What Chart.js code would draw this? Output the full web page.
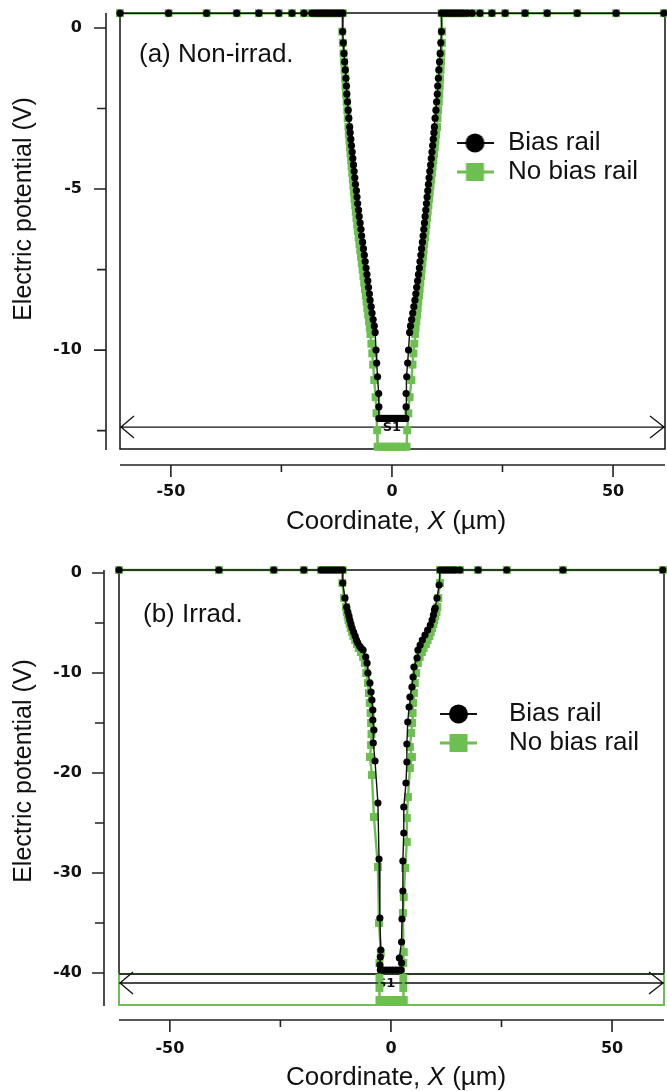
<!DOCTYPE html>
<html><head><meta charset="utf-8">
<script src="https://cdn.jsdelivr.net/npm/chart.js@4.4.0/dist/chart.umd.min.js"></script>
<style>
html,body{margin:0;padding:0;background:#fff;width:667px;}
canvas{display:block;}
</style></head>
<body>
<canvas id="ca" width="667" height="540"></canvas>
<canvas id="cb" width="667" height="551"></canvas>
<script>
// ---------- data ----------
const seriesNames = ['Bias rail', 'No bias rail'];
const xTickLabels = [-50, 0, 50];
const yTickLabelsA = [0, -5, -10];
const yTickLabelsB = [0, -10, -20, -30, -40];
const panelLabels = ['(a) Non-irrad.', '(b) Irrad.'];
const xTitleParts = [['Coordinate, ', false], ['X', true], [' (\u00b5m)', false]];
const yTitle = 'Electric potential (V)';
const markText = 'S1';

// (a) Non-irradiated, Bias rail
const biasA = [
 [-61.5,0.46],[-50.5,0.46],[-41.9,0.46],[-35.1,0.46],[-30.1,0.46],[-25.6,0.46],[-22.6,0.46],[-19.9,0.46],[-18.1,0.46],[-17.3,0.46],[-16.6,0.46],[-15.9,0.46],[-15.2,0.46],[-14.5,0.46],[-13.8,0.46],[-13.1,0.46],[-12.4,0.46],[-11.7,0.46],[-11.1,0.46],
 [-11.15,-0.11],[-11.0,-0.46],[-10.85,-0.79],[-10.7,-1.05],[-10.55,-1.3],[-10.4,-1.56],[-10.3,-1.8],[-10.2,-2.05],[-10.05,-2.29],[-9.9,-2.55],[-9.75,-2.8],[-9.55,-3.07],
 [-9.45,-3.25],[-9.3,-3.45],[-9.15,-3.65],[-9.0,-3.85],[-8.85,-4.05],[-8.7,-4.25],[-8.55,-4.45],[-8.4,-4.65],[-8.25,-4.85],[-8.05,-5.05],[-7.9,-5.25],[-7.75,-5.45],[-7.55,-5.65],[-7.4,-5.85],[-7.2,-6.05],[-7.0,-6.25],[-6.85,-6.45],[-6.65,-6.65],[-6.45,-6.85],[-6.25,-7.05],[-6.05,-7.25],[-5.85,-7.45],[-5.65,-7.65],[-5.45,-7.85],[-5.3,-8.05],[-5.1,-8.25],[-4.95,-8.45],[-4.7,-8.65],[-4.5,-8.85],[-4.25,-9.05],[-4.0,-9.25],[-3.8,-9.45],
 [-3.6,-10.0],[-3.45,-10.4],[-3.25,-10.83],[-3.0,-11.35],[-2.95,-11.76],[-2.95,-12.12],
 [-2.35,-12.12],[-1.75,-12.12],[-1.15,-12.12],[-0.55,-12.12],[0.05,-12.12],[0.65,-12.12],[1.25,-12.12],[1.85,-12.12],[2.5,-12.12],[3.15,-12.12],
 [3.2,-11.76],[3.2,-11.35],[3.35,-10.83],[3.55,-10.4],[3.75,-10.0],
 [4.0,-9.45],[4.2,-9.25],[4.45,-9.05],[4.7,-8.85],[4.95,-8.65],[5.2,-8.45],[5.4,-8.25],[5.6,-8.05],[5.8,-7.85],[6.0,-7.65],[6.2,-7.45],[6.35,-7.25],[6.55,-7.05],[6.7,-6.85],[6.9,-6.65],[7.05,-6.45],[7.2,-6.25],[7.35,-6.05],[7.5,-5.85],[7.65,-5.65],[7.8,-5.45],[7.95,-5.25],[8.1,-5.05],[8.25,-4.85],[8.4,-4.65],[8.55,-4.45],[8.75,-4.25],[8.9,-4.05],[9.05,-3.85],[9.2,-3.65],[9.35,-3.45],[9.5,-3.25],
 [9.6,-3.07],[9.75,-2.8],[9.95,-2.55],[10.1,-2.29],[10.25,-2.05],[10.35,-1.8],[10.5,-1.56],[10.6,-1.3],[10.75,-1.05],[10.9,-0.79],[11.05,-0.46],[11.2,-0.11],
 [11.2,0.46],[11.9,0.46],[12.6,0.46],[13.3,0.46],[14.0,0.46],[14.7,0.46],[15.4,0.46],[16.1,0.46],[17.0,0.46],[18.1,0.46],[19.9,0.46],[22.6,0.46],[25.6,0.46],[30.1,0.46],[35.1,0.46],[41.9,0.46],[50.7,0.46],[61.5,0.46]
];

// (a) Non-irradiated, No bias rail
const noBiasA = [
 [-61.5,0.46],[-50.5,0.46],[-41.9,0.46],[-35.1,0.46],[-30.1,0.46],[-25.6,0.46],[-22.6,0.46],[-19.9,0.46],[-18.1,0.46],[-17.3,0.46],[-16.6,0.46],[-15.9,0.46],[-15.2,0.46],[-14.5,0.46],[-13.8,0.46],[-13.1,0.46],[-12.4,0.46],[-11.7,0.46],[-11.1,0.46],
 [-11.25,-0.11],[-11.1,-0.46],[-10.95,-0.79],[-10.85,-1.05],[-10.7,-1.3],[-10.6,-1.56],[-10.5,-1.8],[-10.4,-2.05],[-10.25,-2.29],[-10.1,-2.55],[-10.0,-2.8],[-9.85,-3.07],
 [-9.75,-3.3],[-9.62,-3.5],[-9.5,-3.7],[-9.37,-3.9],[-9.24,-4.1],[-9.12,-4.3],[-8.98,-4.5],[-8.85,-4.7],[-8.72,-4.9],[-8.6,-5.1],[-8.47,-5.3],[-8.33,-5.5],[-8.18,-5.7],[-8.03,-5.9],[-7.87,-6.1],[-7.7,-6.3],[-7.53,-6.5],[-7.36,-6.7],[-7.18,-6.9],[-7.0,-7.1],[-6.82,-7.3],[-6.64,-7.5],[-6.46,-7.7],[-6.28,-7.9],[-6.1,-8.1],[-5.92,-8.3],[-5.74,-8.5],[-5.56,-8.7],[-5.38,-8.9],[-5.2,-9.1],[-5.02,-9.3],[-4.86,-9.5],
 [-4.65,-9.8],[-4.45,-10.1],[-4.25,-10.45],[-4.0,-10.93],[-3.7,-11.46],[-3.5,-11.96],[-3.35,-12.49],[-3.25,-13.0],
 [-2.55,-13.0],[-1.85,-13.0],[-1.15,-13.0],[-0.45,-13.0],[0.25,-13.0],[0.95,-13.0],[1.65,-13.0],[2.35,-13.0],[3.3,-13.0],
 [3.45,-12.49],[3.7,-11.96],[4.0,-11.46],[4.4,-10.93],[4.65,-10.45],[4.85,-10.1],[5.05,-9.8],
 [5.2,-9.5],[5.36,-9.3],[5.52,-9.1],[5.67,-8.9],[5.82,-8.7],[5.97,-8.5],[6.12,-8.3],[6.27,-8.1],[6.42,-7.9],[6.57,-7.7],[6.72,-7.5],[6.87,-7.3],[7.02,-7.1],[7.17,-6.9],[7.32,-6.7],[7.47,-6.5],[7.62,-6.3],[7.77,-6.1],[7.93,-5.9],[8.09,-5.7],[8.25,-5.5],[8.4,-5.3],[8.56,-5.1],[8.72,-4.9],[8.88,-4.7],[9.04,-4.5],[9.2,-4.3],[9.36,-4.1],[9.52,-3.9],[9.68,-3.7],[9.84,-3.5],[10.0,-3.3],
 [10.2,-3.07],[10.3,-2.8],[10.45,-2.55],[10.6,-2.29],[10.7,-2.05],[10.8,-1.8],[10.9,-1.56],[11.0,-1.3],[11.1,-1.05],[11.2,-0.79],[11.3,-0.46],[11.35,-0.11],
 [11.2,0.46],[11.9,0.46],[12.6,0.46],[13.3,0.46],[14.0,0.46],[14.7,0.46],[15.4,0.46],[16.1,0.46],[17.0,0.46],[18.1,0.46],[19.9,0.46],[22.6,0.46],[25.6,0.46],[30.1,0.46],[35.1,0.46],[41.9,0.46],[50.7,0.46],[61.5,0.46]
];

// (b) Irradiated, Bias rail
const biasB = [
 [-61.5,0.3],[-38.9,0.3],[-26.5,0.3],[-19.7,0.3],[-15.8,0.3],[-15.1,0.3],[-14.4,0.3],[-13.7,0.3],[-13.0,0.3],[-12.3,0.3],[-11.6,0.3],[-10.9,0.3],
 [-10.9,-1.0],[-10.4,-2.5],[-10.0,-3.4],[-9.75,-3.9],[-9.5,-4.3],[-9.3,-4.7],[-9.05,-5.1],[-8.8,-5.5],[-8.45,-5.9],[-8.1,-6.3],[-7.8,-6.7],[-7.5,-7.0],[-7.1,-7.3],[-6.75,-7.5],[-6.3,-7.7],
 [-5.7,-8.4],[-5.4,-9.0],[-5.2,-10.0],[-4.75,-11.0],[-4.5,-11.9],[-4.3,-12.7],[-4.1,-13.7],[-4.1,-14.7],[-3.85,-15.7],[-4.0,-17.0],[-3.6,-18.8],[-2.95,-23.0],[-2.7,-28.6],[-2.5,-34.5],[-2.3,-37.7],[-2.4,-38.4],[-2.5,-39.2],
 [-2.4,-39.7],[-1.7,-39.7],[-1.0,-39.7],[-0.3,-39.7],[0.4,-39.7],[1.1,-39.7],[1.8,-39.7],[2.3,-39.7],
 [2.4,-39.0],[1.9,-38.5],[2.4,-36.9],[2.5,-34.6],[2.7,-31.8],[2.7,-28.8],[2.9,-26.0],[2.9,-23.4],[3.4,-21.0],[3.6,-18.9],[3.6,-17.1],[3.8,-14.9],[4.1,-13.4],[4.3,-12.4],[4.75,-11.4],[5.0,-10.4],[5.2,-9.4],
 [5.9,-8.5],[6.1,-7.7],[6.6,-7.2],[7.1,-6.7],[7.7,-6.2],[8.3,-5.7],[8.9,-5.2],[9.3,-4.7],[9.6,-4.2],[9.85,-3.7],[10.0,-3.5],[10.4,-2.5],[10.9,-1.2],
 [11.1,0.3],[11.8,0.3],[12.5,0.3],[13.2,0.3],[13.9,0.3],[14.5,0.3],[15.6,0.3],[19.7,0.3],[26.2,0.3],[38.9,0.3],[61.5,0.3]
];

// (b) Irradiated, No bias rail
const noBiasB = [
 [-61.5,0.3],[-38.9,0.3],[-26.5,0.3],[-19.7,0.3],[-15.8,0.3],[-15.1,0.3],[-14.4,0.3],[-13.7,0.3],[-13.0,0.3],[-12.3,0.3],[-11.6,0.3],[-10.9,0.3],
 [-11.0,-1.0],[-10.6,-2.5],[-10.2,-3.4],[-10.0,-3.9],[-9.8,-4.3],[-9.6,-4.7],[-9.35,-5.1],[-9.1,-5.5],[-8.8,-5.9],[-8.5,-6.3],[-8.1,-6.7],[-7.7,-7.1],[-7.3,-7.5],[-6.8,-7.9],[-6.3,-8.4],[-5.9,-9.0],[-5.6,-10.0],[-5.2,-11.0],[-5.0,-12.0],[-4.8,-13.0],[-4.6,-14.0],[-4.5,-15.0],[-4.4,-16.1],[-4.5,-17.2],[-4.75,-18.4],[-4.3,-20.2],[-3.85,-24.4],[-2.95,-29.4],[-2.7,-35.0],[-2.3,-38.0],
 [-2.6,-39.0],[-2.6,-40.5],[-2.6,-41.5],[-2.6,-42.7],
 [-1.8,-42.7],[-1.0,-42.7],[-0.2,-42.7],[0.6,-42.7],[1.4,-42.7],[2.2,-42.7],[2.9,-42.7],
 [2.8,-41.5],[2.8,-40.5],[2.8,-39.0],[2.9,-37.9],[2.7,-34.0],[2.9,-32.4],[3.2,-29.5],[3.6,-26.9],[3.6,-24.5],[3.85,-22.4],[4.3,-19.5],[4.75,-18.4],[4.3,-17.4],[4.6,-16.0],[4.8,-15.0],[4.9,-14.0],[5.0,-13.0],[5.2,-12.0],[5.4,-11.0],[5.7,-10.0],[6.1,-9.0],[6.5,-8.4],[7.0,-7.9],[7.4,-7.5],[7.9,-7.1],[8.3,-6.7],[8.7,-6.3],[9.0,-5.9],[9.3,-5.5],[9.6,-5.1],[9.8,-4.7],[10.05,-4.3],[10.3,-3.9],[10.5,-3.4],[10.7,-2.5],[11.1,-1.0],
 [11.1,0.3],[11.8,0.3],[12.5,0.3],[13.2,0.3],[13.9,0.3],[14.5,0.3],[15.6,0.3],[19.7,0.3],[26.2,0.3],[38.9,0.3],[61.5,0.3]
];

// ---------- styles ----------
const GREEN = '#6cbf50';
const INK = '#111111';
const FONT = '"Liberation Sans", Arial, sans-serif';
const TICK_FONT = {family: '"DejaVu Sans", sans-serif', size: 16, weight: 'bold'};
Chart.defaults.font.family = FONT;

function pts(arr) { return arr.map(p => ({x: p[0], y: p[1]})); }

function makeIcon(kind) {
  const c = document.createElement('canvas');
  c.width = 37; c.height = 22;
  const g = c.getContext('2d');
  if (kind === 0) {
    g.strokeStyle = INK; g.lineWidth = 2.2;
    g.beginPath(); g.moveTo(0, 11); g.lineTo(37, 11); g.stroke();
    g.fillStyle = '#000'; g.beginPath(); g.arc(18.5, 11, 9.5, 0, Math.PI * 2); g.fill();
  } else {
    g.strokeStyle = GREEN; g.lineWidth = 3;
    g.beginPath(); g.moveTo(0, 11); g.lineTo(37, 11); g.stroke();
    g.fillStyle = GREEN; g.fillRect(9.5, 2, 18, 18);
  }
  return c;
}
const icons = [makeIcon(0), makeIcon(1)];

const panelPlugin = {
  id: 'panel',
  beforeDraw(chart, args, o) {
    const lg = chart.legend;
    if (lg) {
      lg.left = o.legendLeft; lg.top = o.legendTop;
      lg.right = o.legendLeft + 260; lg.bottom = o.legendTop + 120;
      lg.width = 260; lg.height = 120;
    }
  },
  beforeDatasetsDraw(chart, args, o) {
    const {ctx, chartArea: a, scales: {x, y}} = chart;
    ctx.save();
    ctx.lineWidth = 1.5; ctx.strokeStyle = INK;
    ctx.strokeRect(a.left, a.top, a.width, a.height);
    if (o.greenTop !== null) {
      const gy = y.getPixelForValue(o.greenTop);
      ctx.strokeStyle = GREEN; ctx.lineWidth = 2;
      ctx.strokeRect(a.left, gy, a.width, a.bottom - gy);
      ctx.strokeStyle = INK; ctx.lineWidth = 1.3;
      ctx.beginPath(); ctx.moveTo(a.left, gy); ctx.lineTo(a.right, gy); ctx.stroke();
    }
    const ay = y.getPixelForValue(o.arrowY);
    ctx.strokeStyle = INK; ctx.lineWidth = 1.3;
    ctx.beginPath();
    ctx.moveTo(a.left, ay); ctx.lineTo(a.right, ay);
    ctx.moveTo(a.left + 14, ay - 11); ctx.lineTo(a.left + 1, ay); ctx.lineTo(a.left + 14, ay + 11);
    ctx.moveTo(a.right - 15, ay - 11); ctx.lineTo(a.right - 1, ay); ctx.lineTo(a.right - 15, ay + 11);
    ctx.stroke();
    ctx.fillStyle = INK; ctx.font = 'bold 13px "DejaVu Sans", sans-serif';
    ctx.textAlign = 'center'; ctx.textBaseline = 'middle';
    ctx.fillText(markText, x.getPixelForValue(o.markX), ay + 1);
    ctx.restore();
  },
  afterDraw(chart, args, o) {
    const {ctx, chartArea: a, scales: {x, y}} = chart;
    ctx.save();
    ctx.strokeStyle = '#222'; ctx.lineWidth = 1.6;
    ctx.beginPath();
    const yAx = a.left - o.yGap;
    ctx.moveTo(yAx, a.top); ctx.lineTo(yAx, a.bottom + 1);
    y.ticks.forEach(t => {
      const py = y.getPixelForValue(t.value);
      ctx.moveTo(yAx, py); ctx.lineTo(yAx - (t.label ? 12 : 9), py);
    });
    const xAx = a.bottom + o.xGap;
    ctx.moveTo(a.left, xAx); ctx.lineTo(a.right, xAx);
    x.ticks.forEach(t => {
      const px = x.getPixelForValue(t.value);
      ctx.moveTo(px, xAx); ctx.lineTo(px, xAx + (t.label ? 12 : 7));
    });
    ctx.stroke();

    ctx.fillStyle = INK; ctx.textBaseline = 'middle';
    // y title
    ctx.save();
    ctx.translate(o.yTitleX, o.yTitleY); ctx.rotate(-Math.PI / 2);
    ctx.font = '25px ' + FONT; ctx.textAlign = 'center';
    ctx.fillText(yTitle, 0, 0);
    ctx.restore();
    // x title (mixed italic)
    ctx.textAlign = 'left';
    const fonts = xTitleParts.map(p => (p[1] ? 'italic ' : '') + '26px ' + FONT);
    let total = 0;
    const widths = xTitleParts.map((p, i) => { ctx.font = fonts[i]; const w = ctx.measureText(p[0]).width; total += w; return w; });
    let cx = o.xTitleX - total / 2;
    xTitleParts.forEach((p, i) => { ctx.font = fonts[i]; ctx.fillText(p[0], cx, o.xTitleY); cx += widths[i]; });
    // panel label
    ctx.font = '26px ' + FONT;
    ctx.fillText(o.label, o.labelX, o.labelY);
    ctx.restore();
  }
};

function buildChart(id, cfg) {
  return new Chart(document.getElementById(id), {
    type: 'scatter',
    data: {
      datasets: [
        { label: seriesNames[0], data: pts(cfg.bias), showLine: true, borderColor: INK, borderWidth: 1.4,
          pointStyle: 'circle', pointRadius: 3.6, pointBackgroundColor: '#000', pointBorderWidth: 0, clip: false, tension: 0 },
        { label: seriesNames[1], data: pts(cfg.noBias), showLine: true, borderColor: GREEN, borderWidth: 2.4,
          pointStyle: 'rect', pointRadius: 5.6, pointBackgroundColor: GREEN, pointBorderWidth: 0, clip: false, tension: 0 }
      ]
    },
    options: {
      responsive: false, animation: false, devicePixelRatio: 1, events: [],
      layout: { autoPadding: false, padding: { top: cfg.padTop, right: cfg.padRight, left: 0, bottom: 0 } },
      scales: {
        x: {
          type: 'linear', position: 'bottom', min: -61.5, max: 61.75,
          afterFit: s => { s.height = cfg.xHeight; s.paddingLeft = 0; s.paddingRight = 0; },
          grid: { display: false, drawTicks: false }, border: { display: false },
          ticks: { stepSize: 25, includeBounds: false, autoSkip: false, maxRotation: 0, minRotation: 0,
            padding: cfg.xPad, font: TICK_FONT, color: INK,
            callback: v => xTickLabels.includes(v) ? String(v) : '' }
        },
        y: {
          type: 'linear', position: 'left', min: cfg.yMin, max: cfg.yMax,
          afterFit: s => { s.width = cfg.yWidth; s.paddingTop = 0; s.paddingBottom = 0; },
          grid: { display: false, drawTicks: false }, border: { display: false },
          ticks: { stepSize: cfg.yStep, includeBounds: false, autoSkip: false,
            padding: cfg.yPad, font: TICK_FONT, color: INK,
            callback: v => cfg.yLabels.includes(v) ? String(v) : '' }
        }
      },
      plugins: {
        tooltip: { enabled: false },
        legend: {
          position: 'chartArea', align: 'start',
          labels: {
            usePointStyle: true, pointStyleWidth: cfg.legendBoxW, padding: 3, color: INK,
            font: { size: 26, family: FONT },
            generateLabels: chart => chart.data.datasets.map((ds, i) => ({
              text: ds.label, pointStyle: icons[i], fontColor: INK, fillStyle: INK,
              strokeStyle: INK, lineWidth: 0, hidden: false, datasetIndex: i
            }))
          }
        },
        panel: cfg.panel
      }
    },
    plugins: [panelPlugin]
  });
}

buildChart('ca', {
  bias: biasA, noBias: noBiasA, yMin: -13.07, yMax: 0.466, yStep: 2.5, yLabels: yTickLabelsA,
  padTop: 13, padRight: 2, xHeight: 91, yWidth: 120, xPad: 33, yPad: 38, legendBoxW: 40,
  panel: { yGap: 14, xGap: 16, arrowY: -12.39, greenTop: null, markX: 0,
    yTitleX: 24, yTitleY: 209, xTitleX: 396, xTitleY: 522,
    label: panelLabels[0], labelX: 139, labelY: 55, legendLeft: 452, legendTop: 127 }
});
buildChart('cb', {
  bias: biasB, noBias: noBiasB, yMin: -43.2, yMax: 0.3, yStep: 5, yLabels: yTickLabelsB,
  padTop: 30, padRight: 3, xHeight: 86, yWidth: 119, xPad: 34, yPad: 37, legendBoxW: 75,
  panel: { yGap: 15, xGap: 15, arrowY: -41.0, greenTop: -40.1, markX: -1.1,
    yTitleX: 24, yTitleY: 231, xTitleX: 396, xTitleY: 538,
    label: panelLabels[1], labelX: 143, labelY: 75, legendLeft: 418, legendTop: 158 }
});
</script>
</body></html>
